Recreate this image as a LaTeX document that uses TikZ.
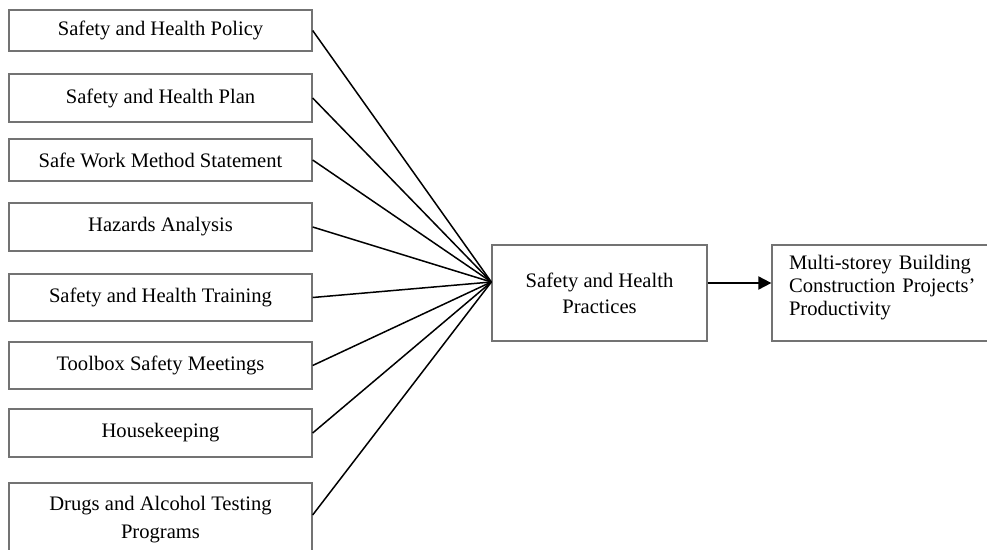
\documentclass[tikz,border=0pt]{standalone}
\usepackage{fontspec}
\setmainfont{Liberation Serif}
\usetikzlibrary{arrows.meta}
\begin{document}
\begin{tikzpicture}[x=1pt,y=-1pt,
  box/.style={draw=black!55,line width=1.3pt,fill=white,inner sep=0pt,
    font=\fontsize{20.6}{28}\selectfont,align=center},
  factor/.style={box,minimum width=303pt},
  link/.style={line width=1.5pt,black},
  flow/.style={line width=2pt,black,-{Triangle[length=13pt,width=13pt]}}]
\useasboundingbox[fill=white] (0,0) rectangle (987,549);

% left column of factors
\node[factor,minimum height=41pt] (f1) at (160.5,30.5) {Safety and Health Policy};
\node[factor,minimum height=48pt] (f2) at (160.5,98) {Safety and Health Plan};
\node[factor,minimum height=42pt] (f3) at (160.5,160) {Safe Work Method Statement};
\node[factor,minimum height=48pt] (f4) at (160.5,227) {Hazards Analysis};
\node[factor,minimum height=47pt] (f5) at (160.5,297.5) {Safety and Health Training};
\node[factor,minimum height=47pt] (f6) at (160.5,365.5) {Toolbox Safety Meetings};
\node[factor,minimum height=48pt] (f7) at (160.5,433) {Housekeeping};
\node[factor,minimum height=74pt] (f8) at (160.5,520) {Drugs and Alcohol Testing\\Programs};

% central construct
\node[box,minimum width=215pt,minimum height=96pt,
  font=\fontsize{20.6}{26}\selectfont] (mid) at (599.5,293) {Safety and Health\\Practices};

% outcome, text set a little above the middle of the box
\node[box,minimum width=223pt,minimum height=96pt,text width=189pt,
  inner xsep=17pt,align=left,font=\fontsize{20.6}{23}\selectfont] (out) at (883.5,293)
  {Multi-storey Building\\Construction Projects'\\Productivity\\[-7pt]\mbox{}};

% connectors into the central construct
\coordinate (hub) at ([yshift=11pt]mid.west);
\foreach \f in {f1,f2,f3,f4,f5,f6,f7}
  \draw[link] (\f.east) -- (hub);
\draw[link] ([yshift=5pt]f8.east) -- (hub);

\draw[flow] ([yshift=10pt]mid.east) -- ([yshift=10pt]out.west);
\end{tikzpicture}
\end{document}
